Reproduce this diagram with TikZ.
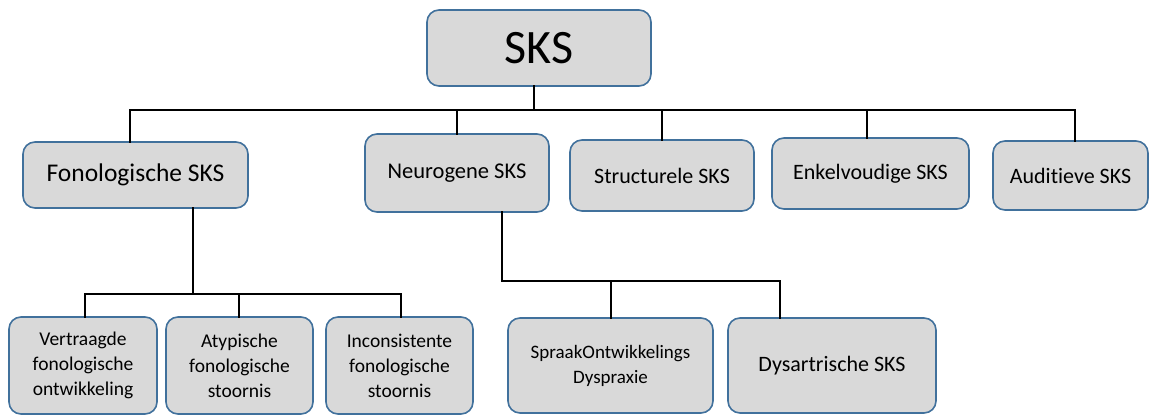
\documentclass[tikz,border=0pt]{standalone}
\usepackage{fontspec}
\setmainfont[Ligatures=CommonOff]{Carlito}
\definecolor{boxfill}{HTML}{D9D9D9}
\definecolor{boxline}{HTML}{41719C}
\begin{document}
\begin{tikzpicture}[x=1pt,y=-1pt,
  box/.style={draw=boxline, line width=1.6pt, fill=boxfill, rounded corners=12pt, align=center, inner sep=0pt},
  conn/.style={draw=black, line width=2.8pt, line cap=rect}]
\useasboundingbox (0,0) rectangle (1152,416);
% top
\node[box, minimum width=224, minimum height=76, font=\fontsize{48}{54}\selectfont] (sks) at (539,48) {SKS};
% level 1
\node[box, minimum width=225, minimum height=66, font=\fontsize{25.5}{30}\selectfont] (fon) at (135.5,175) {Fonologische SKS};
\node[box, minimum width=184, minimum height=78, font=\fontsize{22.5}{26}\selectfont] (neu) at (457,173) {Neurogene SKS};
\node[box, minimum width=184, minimum height=71, font=\fontsize{22}{26}\selectfont] (str) at (662,175.5) {Structurele SKS};
\node[box, minimum width=197, minimum height=71, font=\fontsize{22}{26}\selectfont] (enk) at (870.5,173.5) {Enkelvoudige SKS};
\node[box, minimum width=155, minimum height=69, font=\fontsize{22}{26}\selectfont] (aud) at (1070.5,175.5) {Auditieve SKS};
% level 2 fonologisch
\node[box, minimum width=148, minimum height=97, font=\fontsize{19.5}{25}\selectfont] (ver) at (83,365.5) {Vertraagde\\fonologische\\ontwikkeling};
\node[box, minimum width=147, minimum height=97, font=\fontsize{19.5}{25}\selectfont] (aty) at (239.5,365.5) {Atypische\\fonologische\\stoornis};
\node[box, minimum width=147, minimum height=97, font=\fontsize{19.5}{25}\selectfont] (inc) at (399.5,365.5) {Inconsistente\\fonologische\\stoornis};
% level 2 neurogeen
\node[box, minimum width=205, minimum height=95, font=\fontsize{19}{25}\selectfont] (spr) at (610.5,365.5) {SpraakOntwikkelings\\Dyspraxie};
\node[box, minimum width=208, minimum height=95, font=\fontsize{22}{26}\selectfont] (dys) at (832,365.5) {Dysartrische SKS};
% connectors level 1
\coordinate (busL) at (130,110);
\coordinate (busR) at (1075,110);
\draw[conn] (busL) -- (busR);
\draw[conn] ([xshift=-5pt]sks.south) -- ([xshift=-5pt]sks.south |- busL);
\draw[conn] ([xshift=-5.5pt]fon.north) -- ([xshift=-5.5pt]fon.north |- busL);
\draw[conn] (neu.north) -- (neu.north |- busL);
\draw[conn] (str.north) -- (str.north |- busL);
\draw[conn] ([xshift=-3.5pt]enk.north) -- ([xshift=-3.5pt]enk.north |- busL);
\draw[conn] ([xshift=4.5pt]aud.north) -- ([xshift=4.5pt]aud.north |- busL);
% connectors fonologisch
\coordinate (f1) at (193,294);
\draw[conn] ([xshift=57.5pt]fon.south) -- (f1);
\draw[conn] ([xshift=2pt]ver.north |- f1) -- ([xshift=1.5pt]inc.north |- f1);
\draw[conn] ([xshift=2pt]ver.north) -- ([xshift=2pt]ver.north |- f1);
\draw[conn] ([xshift=-0.5pt]aty.north) -- ([xshift=-0.5pt]aty.north |- f1);
\draw[conn] ([xshift=1.5pt]inc.north) -- ([xshift=1.5pt]inc.north |- f1);
% connectors neurogeen
\coordinate (n1) at (502,281);
\draw[conn] ([xshift=45pt]neu.south) -- (n1);
\draw[conn] (n1) -- ([xshift=-52pt]dys.north |- n1);
\draw[conn] ([xshift=0.5pt]spr.north) -- ([xshift=0.5pt]spr.north |- n1);
\draw[conn] ([xshift=-52pt]dys.north) -- ([xshift=-52pt]dys.north |- n1);
\end{tikzpicture}
\end{document}
